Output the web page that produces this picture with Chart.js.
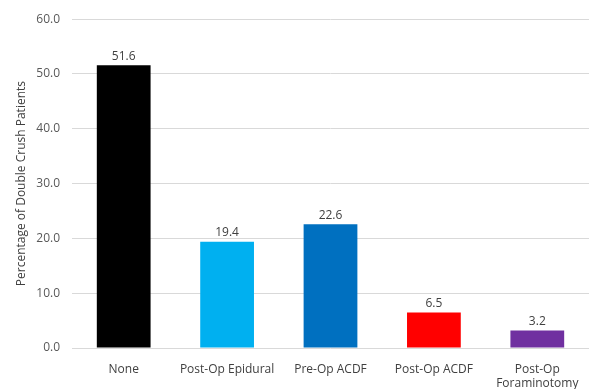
<!DOCTYPE html>
<html>
<head>
<meta charset="utf-8">
<script src="https://cdn.jsdelivr.net/npm/chart.js@4/dist/chart.umd.min.js"></script>
<style>
  html, body { margin: 0; padding: 0; background: #fff; }
  #wrap { width: 593px; height: 389px; }
</style>
</head>
<body>
<div id="wrap"><canvas id="crushChart" width="593" height="389"></canvas></div>
<script>
const categories = ["None", "Post-Op Epidural", "Pre-Op ACDF", "Post-Op ACDF", ["Post-Op", "Foraminotomy"]];
const percentages = [51.6, 19.4, 22.6, 6.5, 3.2];
const barColors = ["#000000", "#00b0f0", "#0070c0", "#ff0000", "#7030a0"];
const yTicks = [0, 10, 20, 30, 40, 50, 60];

const FONT = "'Open Sans', 'Liberation Sans', sans-serif";

// writes each bar's value just above it
const valueLabels = {
    id: "valueLabels",
    afterDatasetsDraw(chart) {
        const ctx = chart.ctx;
        const meta = chart.getDatasetMeta(0);
        ctx.save();
        ctx.font = "12px " + FONT;
        ctx.fillStyle = "#404040";
        ctx.textAlign = "center";
        ctx.textBaseline = "bottom";
        meta.data.forEach((bar, i) => {
            ctx.fillText(percentages[i].toFixed(1), bar.x, bar.y - 3);
        });
        ctx.restore();
    }
};

const ctx = document.getElementById("crushChart").getContext("2d");

new Chart(ctx, {
    type: "bar",
    data: {
        labels: categories,
        datasets: [{
            data: percentages,
            backgroundColor: barColors,
            borderWidth: 0,
            categoryPercentage: 1.0,
            barPercentage: 0.52
        }]
    },
    options: {
        responsive: false,
        animation: false,
        layout: { padding: { top: 9, right: 4, bottom: 0, left: 0 } },
        plugins: {
            legend: { display: false },
            tooltip: { enabled: false }
        },
        scales: {
            x: {
                grid: { display: false },
                border: { display: false },
                ticks: {
                    color: "#404040",
                    font: { family: FONT, size: 12 },
                    padding: 6,
                    maxRotation: 0,
                    autoSkip: false
                },
                afterFit(scale) { scale.height = 41; }
            },
            y: {
                min: 0,
                max: 60,
                afterBuildTicks(scale) {
                    scale.ticks = yTicks.map(v => ({ value: v }));
                },
                grid: { color: "#d9d9d9", lineWidth: 1, drawTicks: false },
                border: { display: false },
                ticks: {
                    color: "#595959",
                    font: { family: FONT, size: 12 },
                    padding: 12,
                    callback: v => Number(v).toFixed(1)
                },
                title: {
                    display: true,
                    text: "Percentage of Double Crush Patients",
                    color: "#404040",
                    font: { family: FONT, size: 12 },
                    padding: { top: 14, bottom: 0 }
                },
                afterFit(scale) { scale.width = 72; }
            }
        }
    },
    plugins: [valueLabels]
});
</script>
</body>
</html>
